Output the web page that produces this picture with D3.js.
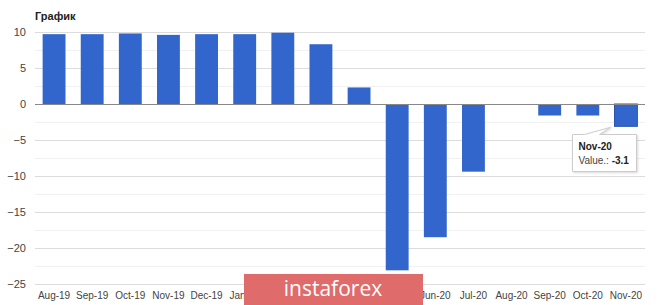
<!DOCTYPE html>
<html lang="en">
<head>
<meta charset="UTF-8">
<title>График</title>
<style>
    body { margin: 0; background: #fff; }
    svg { display: block; font-family: Arial, "Liberation Sans", sans-serif; }
</style>
</head>
<body>
<div id="chart"></div>
<script src="https://d3js.org/d3.v7.min.js"></script>
<script>
    // chart data
    const months = ["Aug-19", "Sep-19", "Oct-19", "Nov-19", "Dec-19", "Jan-20", "Feb-20", "Mar-20",
        "Apr-20", "May-20", "Jun-20", "Jul-20", "Aug-20", "Sep-20", "Oct-20", "Nov-20"];
    const values = [9.7, 9.7, 9.8, 9.6, 9.7, 9.7, 9.9, 8.3, 2.3, -23.1, -18.5, -9.4, -0.1, -1.6, -1.6, -3.1];
    const yTicks = [10, 5, 0, -5, -10, -15, -20, -25];
    const minorTicks = [7.5, 2.5, -2.5, -7.5, -12.5, -17.5, -22.5];

    const W = 665, H = 305;
    const margin = { top: 32, right: 20, bottom: 21, left: 35 };

    const svg = d3.select("#chart").append("svg")
        .attr("width", W)
        .attr("height", H);

    const x = d3.scaleBand()
        .domain(months)
        .range([margin.left, W - margin.right])
        .paddingInner(0.4)
        .paddingOuter(0.2);

    const y = d3.scaleLinear()
        .domain([-25, 10])
        .range([H - margin.bottom, margin.top]);

    // title
    svg.append("text")
        .attr("x", 35)
        .attr("y", 20)
        .attr("font-size", 11)
        .attr("font-weight", "bold")
        .attr("fill", "#222")
        .text("График");

    // gridlines
    svg.append("g").selectAll("line.minor")
        .data(minorTicks)
        .enter().append("line")
        .attr("x1", margin.left).attr("x2", W - margin.right)
        .attr("y1", d => Math.round(y(d)) + 0.5).attr("y2", d => Math.round(y(d)) + 0.5)
        .attr("stroke", "#f1f1f1");

    svg.append("g").selectAll("line.major")
        .data(yTicks.filter(d => d !== 0))
        .enter().append("line")
        .attr("x1", margin.left).attr("x2", W - margin.right)
        .attr("y1", d => Math.round(y(d)) + 0.5).attr("y2", d => Math.round(y(d)) + 0.5)
        .attr("stroke", "#dcdcdc");

    // y axis labels
    const yAxis = svg.append("g")
        .attr("transform", `translate(${margin.left},0)`)
        .call(d3.axisLeft(y).tickValues(yTicks).tickSize(0).tickPadding(9));
    yAxis.select(".domain").remove();
    yAxis.selectAll("text").attr("font-size", 11).attr("fill", "#444").attr("font-family", "Arial, 'Liberation Sans', sans-serif");

    // bars
    svg.append("g").selectAll("rect")
        .data(values)
        .enter().append("rect")
        .attr("x", (d, i) => x(months[i]))
        .attr("width", x.bandwidth())
        .attr("y", d => y(Math.max(0, d)))
        .attr("height", d => Math.abs(y(d) - y(0)))
        .attr("fill", "#3366cc")
        .attr("stroke", (d, i) => i === values.length - 1 ? "#2a55aa" : "none");

    // zero line
    svg.append("line")
        .attr("x1", margin.left).attr("x2", W - margin.right)
        .attr("y1", Math.round(y(0)) + 0.5).attr("y2", Math.round(y(0)) + 0.5)
        .attr("stroke", "#888");

    // x axis labels
    const xAxis = svg.append("g")
        .attr("transform", `translate(0,${H - margin.bottom})`)
        .call(d3.axisBottom(x).tickSize(0).tickPadding(8));
    xAxis.select(".domain").remove();
    xAxis.selectAll("text").attr("font-size", 10).attr("fill", "#444").attr("font-family", "Arial, 'Liberation Sans', sans-serif");

    // tooltip on last bar
    const last = values.length - 1;
    const bx = x(months[last]);
    const by = y(values[last]);
    const tx = 572.5, ty = 134.5, tw = 64, th = 37;
    const tip = svg.append("g");
    tip.append("path")
        .attr("d", `M${tx},${ty} L${tx + 12},${ty} L${bx - 4},${by + 1} L${tx + 27},${ty} L${tx + tw},${ty} L${tx + tw},${ty + th} L${tx},${ty + th} Z`)
        .attr("fill", "#fff")
        .attr("stroke", "#ccc")
        .style("filter", "drop-shadow(1px 1px 1px rgba(0,0,0,0.15))");
    tip.append("text")
        .attr("x", tx + 6).attr("y", ty + 15)
        .attr("font-size", 10).attr("font-weight", "bold").attr("fill", "#222")
        .text(months[last]);
    const t2 = tip.append("text")
        .attr("x", tx + 6).attr("y", ty + 29)
        .attr("font-size", 10).attr("fill", "#444");
    t2.append("tspan").text("Value.: ");
    t2.append("tspan").attr("font-weight", "bold").attr("fill", "#222").text(values[last]);

    // watermark
    const wm = svg.append("g");
    wm.append("rect")
        .attr("x", 244).attr("y", 274)
        .attr("width", 179).attr("height", 31)
        .attr("fill", "#e06b6b");
    wm.append("text")
        .attr("x", 333).attr("y", 296)
        .attr("text-anchor", "middle")
        .attr("font-size", 21)
        .attr("fill", "#fff")
        .attr("font-family", "'Open Sans', sans-serif")
        .text("instaforex");
</script>
</body>
</html>
